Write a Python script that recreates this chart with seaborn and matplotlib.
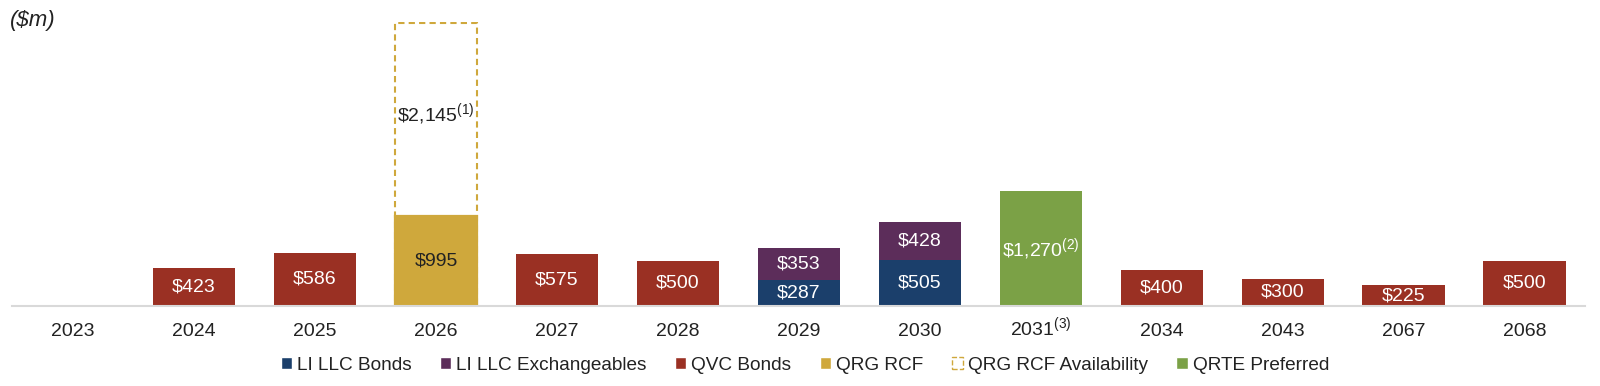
import pandas as pd
import matplotlib.pyplot as plt
import seaborn as sns
from matplotlib.patches import Patch

years = ['2023', '2024', '2025', '2026', '2027', '2028', '2029', '2030',
         '2031', '2034', '2043', '2067', '2068']
li_bonds = [0, 0, 0, 0, 0, 0, 287, 505, 0, 0, 0, 0, 0]
li_exch = [0, 0, 0, 0, 0, 0, 353, 428, 0, 0, 0, 0, 0]
qvc_bonds = [0, 423, 586, 0, 575, 500, 0, 0, 0, 400, 300, 225, 500]
qrg_rcf = [0, 0, 0, 995, 0, 0, 0, 0, 0, 0, 0, 0, 0]
qrg_avail = [0, 0, 0, 2145, 0, 0, 0, 0, 0, 0, 0, 0, 0]
qrte_pref = [0, 0, 0, 0, 0, 0, 0, 0, 1270, 0, 0, 0, 0]
tick_labels = ['2023', '2024', '2025', '2026', '2027', '2028', '2029', '2030',
               '2031$^{(3)}$', '2034', '2043', '2067', '2068']

C_NAVY = '#1b3f6b'
C_PURPLE = '#5c2d5a'
C_RED = '#9a3023'
C_GOLD = '#cfa83c'
C_GREEN = '#7ba146'
C_TEXT = '#222222'

sns.set_theme(style='white')
plt.rcParams['font.family'] = ['Liberation Sans', 'DejaVu Sans']
plt.rcParams['mathtext.fontset'] = 'custom'
plt.rcParams['mathtext.rm'] = 'Liberation Sans'
plt.rcParams['mathtext.it'] = 'Liberation Sans:italic'

df = pd.DataFrame({'year': years, 'li_bonds': li_bonds, 'li_exch': li_exch,
                   'qvc': qvc_bonds, 'rcf': qrg_rcf, 'avail': qrg_avail,
                   'qrte': qrte_pref})

# cumulative totals, drawn from the top layer down
df['t_exch'] = df['li_bonds'] + df['li_exch']
df['t_avail'] = df['rcf'] + df['avail']

fig = plt.figure(figsize=(16, 3.86), dpi=100)
ax = fig.add_axes([0.0078, 0.208, 0.983, 0.734])

w = 0.683
sns.barplot(data=df, x='year', y='t_avail', order=years, color='white',
            edgecolor=C_GOLD, linestyle=(0, (3, 2)), linewidth=1.5,
            width=w, ax=ax, saturation=1)
layers = [('t_exch', C_PURPLE), ('li_bonds', C_NAVY), ('qvc', C_RED),
          ('qrte', C_GREEN)]
for col, c in layers:
    sns.barplot(data=df, x='year', y=col, order=years, color=c,
                linewidth=0, width=w, ax=ax, saturation=1)
# gold bar gets a solid edge so the dashed sides stop at its top
sns.barplot(data=df, x='year', y='rcf', order=years, color=C_GOLD,
            edgecolor=C_GOLD, linewidth=1.6, width=w, ax=ax, saturation=1)
# hide empty bars (their edges would show on the baseline)
for p in ax.patches:
    if p.get_height() == 0:
        p.set_visible(False)

ax.set_ylim(0, 3150)
ax.set_xlim(-0.5, len(years) - 0.5)
ax.set_xlabel('')
ax.set_ylabel('')
ax.set_yticks([])
ax.set_xticks(range(len(years)))
ax.set_xticklabels(tick_labels, fontsize=14, color=C_TEXT)
for t in ax.get_xticklabels():
    t.set_va('baseline')
ax.tick_params(axis='x', length=0, pad=21.5)
for s in ['top', 'left', 'right']:
    ax.spines[s].set_visible(False)
ax.spines['bottom'].set_color('#d9d9d9')
ax.spines['bottom'].set_linewidth(1.5)

def lab(i, y, txt, color='white'):
    ax.text(i, y, txt, ha='center', va='center', fontsize=14, color=color)

for i in range(len(years)):
    if qvc_bonds[i]:
        lab(i, qvc_bonds[i] / 2, f'${qvc_bonds[i]:,}')
    if li_bonds[i]:
        lab(i, li_bonds[i] / 2, f'${li_bonds[i]:,}')
        lab(i, li_bonds[i] + li_exch[i] / 2, f'${li_exch[i]:,}')
    if qrg_rcf[i]:
        lab(i, qrg_rcf[i] / 2, f'${qrg_rcf[i]:,}', color=C_TEXT)
        lab(i, qrg_rcf[i] + qrg_avail[i] * 0.53,
            f'\\${qrg_avail[i]:,}' + r'$^{(1)}$', color=C_TEXT)
    if qrte_pref[i]:
        lab(i, qrte_pref[i] / 2, f'\\${qrte_pref[i]:,}' + r'$^{(2)}$')

fig.text(0.0065, 0.948, '($m)', fontsize=16, style='italic', color=C_TEXT,
         va='center')

handles = [Patch(facecolor=C_NAVY), Patch(facecolor=C_PURPLE),
           Patch(facecolor=C_RED), Patch(facecolor=C_GOLD),
           Patch(facecolor='white', edgecolor=C_GOLD, linestyle='--'),
           Patch(facecolor=C_GREEN)]
names = ['LI LLC Bonds', 'LI LLC Exchangeables', 'QVC Bonds', 'QRG RCF',
         'QRG RCF Availability', 'QRTE Preferred']
fig.legend(handles, names, loc='center', bbox_to_anchor=(0.503, 0.054),
           ncol=6, frameon=False, fontsize=13.7, handlelength=0.6,
           handleheight=0.6, handletextpad=0.25, columnspacing=1.5,
           labelcolor=C_TEXT)

fig.savefig('out.png', dpi=100)
